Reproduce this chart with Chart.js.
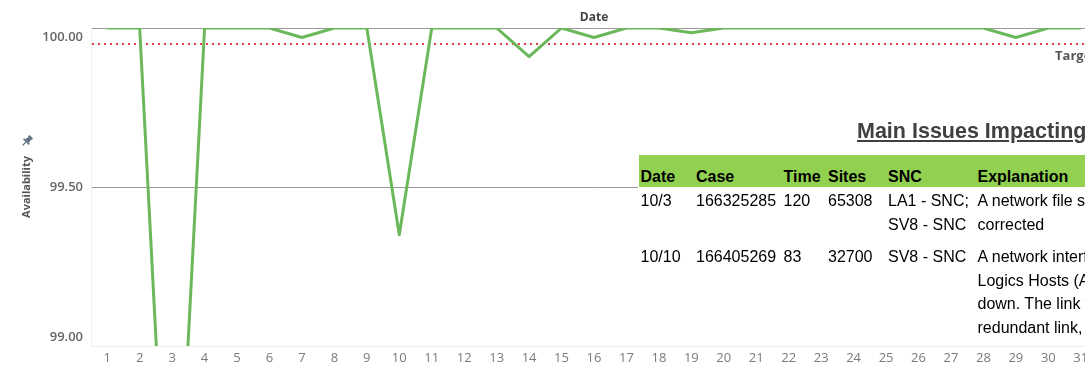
<!DOCTYPE html>
<html>
<head>
<meta charset="utf-8">
<script src="https://cdn.jsdelivr.net/npm/chart.js@4/dist/chart.umd.min.js"></script>
<style>
    html, body {
        margin: 0;
        padding: 0;
        background: #fff;
        overflow: hidden;
        width: 1085px;
        height: 367px;
    }

    #chartBox {
        position: absolute;
        left: 0;
        top: 0;
        width: 1100px;
        height: 367px;
    }

    #issues {
        position: absolute;
        left: 638px;
        top: 100px;
        width: 480px;
        height: 245px;
        background: #fff;
    }

    #issuesTitle {
        position: absolute;
        left: 219px;
        top: 19px;
        font: bold 21.5px 'Liberation Sans', Arial, sans-serif;
        line-height: 24px;
        color: #404040;
        text-decoration: underline;
        white-space: nowrap;
    }

    #issuesTable {
        position: absolute;
        left: 0.5px;
        top: 55px;
        width: 757px;
        border-collapse: collapse;
        border-spacing: 0;
        table-layout: fixed;
        font: 16px 'Liberation Sans', Arial, sans-serif;
        color: #000;
        white-space: nowrap;
    }

    #issuesTable th {
        background: #92d050;
        height: 32px;
        padding: 0 0 1px 2px;
        line-height: 18px;
        vertical-align: bottom;
        text-align: left;
        font-weight: bold;
        box-sizing: border-box;
        overflow: hidden;
    }

    #issuesTable td {
        padding: 2px 0 0 2px;
        line-height: 23.5px;
        vertical-align: top;
        text-align: left;
        overflow: visible;
    }

    #issuesTable tr.second td {
        padding-top: 9px;
    }
</style>
</head>
<body>
<div id="chartBox"><canvas id="myChart"></canvas></div>

<div id="issues">
    <div id="issuesTitle">Main Issues Impacting Availability</div>
    <table id="issuesTable"></table>
</div>

<script>
    const days = ['1', '2', '3', '4', '5', '6', '7', '8', '9', '10', '11', '12', '13', '14', '15', '16',
        '17', '18', '19', '20', '21', '22', '23', '24', '25', '26', '27', '28', '29', '30', '31'];

    const availability = [100, 100, 98.05, 100, 100, 100, 99.97, 100, 100, 99.35, 100, 100, 100, 99.91, 100, 99.97,
        100, 100, 99.985, 100, 100, 100, 100, 100, 100, 100, 100, 100, 99.97, 100, 100];

    const target = 99.95;
    const yTicks = [99, 99.5, 100];

    const issueCols = ['Date', 'Case', 'Time', 'Sites', 'SNC', 'Explanation'];
    const issueColWidths = [55.5, 87.5, 44.5, 60, 89.5, 420];
    const issueRows = [
        ['10/3', '166325285', '120', '65308', 'LA1 - SNC;<br>SV8 - SNC', 'A network file system issue was<br>corrected'],
        ['10/10', '166405269', '83', '32700', 'SV8 - SNC', 'A network interface on the<br>Logics Hosts (AIX) went<br>down. The link was moved to the<br>redundant link, restoring service']
    ];


    function renderIssues() {
        let table = document.getElementById('issuesTable');
        let html = '<colgroup>';
        issueColWidths.forEach(w => html += `<col style="width:${w}px">`);
        html += '</colgroup><tr>';
        issueCols.forEach(c => html += `<th>${c}</th>`);
        html += '</tr>';
        issueRows.forEach((row, i) => {
            html += `<tr class="${i > 0 ? 'second' : ''}">`;
            row.forEach(cell => html += `<td>${cell}</td>`);
            html += '</tr>';
        });
        table.innerHTML = html;
    }


    // target line, rounded y labels kept inside the plot, "Target" tag and the pin icon
    const extras = {
        id: 'extras',
        beforeDatasetsDraw(chart) {
            let ctx = chart.ctx;
            let area = chart.chartArea;
            let py = chart.scales.y.getPixelForValue(target);
            ctx.save();
            ctx.strokeStyle = '#e63c4b';
            ctx.lineWidth = 2;
            ctx.setLineDash([2, 4]);
            ctx.beginPath();
            ctx.moveTo(area.left + 1, py);
            ctx.lineTo(area.right, py);
            ctx.stroke();
            ctx.restore();
        },
        afterDraw(chart) {
            let ctx = chart.ctx;
            let area = chart.chartArea;
            let yScale = chart.scales.y;

            ctx.save();
            ctx.font = '600 13px "Open Sans"';
            ctx.fillStyle = '#666';
            ctx.textAlign = 'right';
            ctx.textBaseline = 'middle';
            yTicks.forEach(v => {
                let py = yScale.getPixelForValue(v);
                py = Math.min(Math.max(py, area.top + 9), area.bottom - 9);
                ctx.fillText(v.toFixed(2), area.left - 8, py);
            });

            ctx.font = 'bold 13px "Open Sans"';
            ctx.fillStyle = '#555';
            ctx.fillText('Target', area.right, yScale.getPixelForValue(target) + 12);

            // pin next to the axis title
            ctx.translate(27, 141);
            ctx.rotate(Math.PI / 4);
            ctx.fillStyle = '#5d6d7e';
            ctx.strokeStyle = '#5d6d7e';
            ctx.fillRect(-2.5, -6, 5, 2);
            ctx.beginPath();
            ctx.moveTo(-1.8, -4);
            ctx.lineTo(1.8, -4);
            ctx.lineTo(2.6, 0);
            ctx.lineTo(-2.6, 0);
            ctx.closePath();
            ctx.fill();
            ctx.fillRect(-4, 0, 8, 1.6);
            ctx.lineWidth = 1.2;
            ctx.beginPath();
            ctx.moveTo(0, 1.6);
            ctx.lineTo(0, 6);
            ctx.stroke();
            ctx.restore();
        }
    };


    function renderChart() {
        let ctx = document.getElementById('myChart');

        new Chart(ctx, {
            type: 'line',
            data: {
                labels: days,
                datasets: [{
                    label: 'Availability',
                    data: availability,
                    borderColor: '#6bb85a',
                    borderWidth: 3,
                    borderJoinStyle: 'round',
                    pointRadius: 0,
                    pointHoverRadius: 0,
                    tension: 0,
                    fill: false
                }]
            },
            options: {
                responsive: true,
                maintainAspectRatio: false,
                animation: false,
                layout: {
                    padding: { left: 0, right: 3, top: 0, bottom: 0 }
                },
                plugins: {
                    legend: { display: false },
                    tooltip: { enabled: false }
                },
                scales: {
                    x: {
                        type: 'category',
                        position: 'bottom',
                        offset: true,
                        grid: { display: false, drawTicks: false },
                        border: { display: true, color: '#eeeeee' },
                        ticks: {
                            color: '#7a7a7a',
                            font: { family: 'Open Sans', size: 13 },
                            padding: 4,
                            maxRotation: 0,
                            autoSkip: false
                        },
                        afterFit(scale) {
                            scale.height = 21;
                        }
                    },
                    x2: {
                        type: 'category',
                        position: 'top',
                        labels: days,
                        offset: true,
                        grid: { display: false, drawTicks: false },
                        border: { display: true, color: '#9a9a9a', width: 1 },
                        ticks: { display: false },
                        title: {
                            display: true,
                            text: 'Date',
                            color: '#444',
                            font: { family: 'Open Sans', size: 12, weight: 'bold' },
                            padding: { top: 10, bottom: 0 }
                        },
                        afterFit(scale) {
                            scale.height = 28;
                        }
                    },
                    y: {
                        min: 99,
                        max: 100,
                        afterBuildTicks(scale) {
                            scale.ticks = yTicks.map(v => ({ value: v }));
                        },
                        grid: {
                            drawTicks: false,
                            color: c => c.tick && c.tick.value === 99.5 ? '#9a9a9a' : 'rgba(0,0,0,0)'
                        },
                        border: { display: true, color: '#f0f0f0' },
                        ticks: { display: false },
                        title: {
                            display: true,
                            text: 'Availability',
                            color: '#555',
                            font: { family: 'Open Sans', size: 11, weight: 'bold' },
                            padding: { top: 20, bottom: 0 }
                        },
                        afterFit(scale) {
                            scale.width = 91;
                        }
                    }
                }
            },
            plugins: [extras]
        });
    }

    renderIssues();
    renderChart();
</script>
</body>
</html>
